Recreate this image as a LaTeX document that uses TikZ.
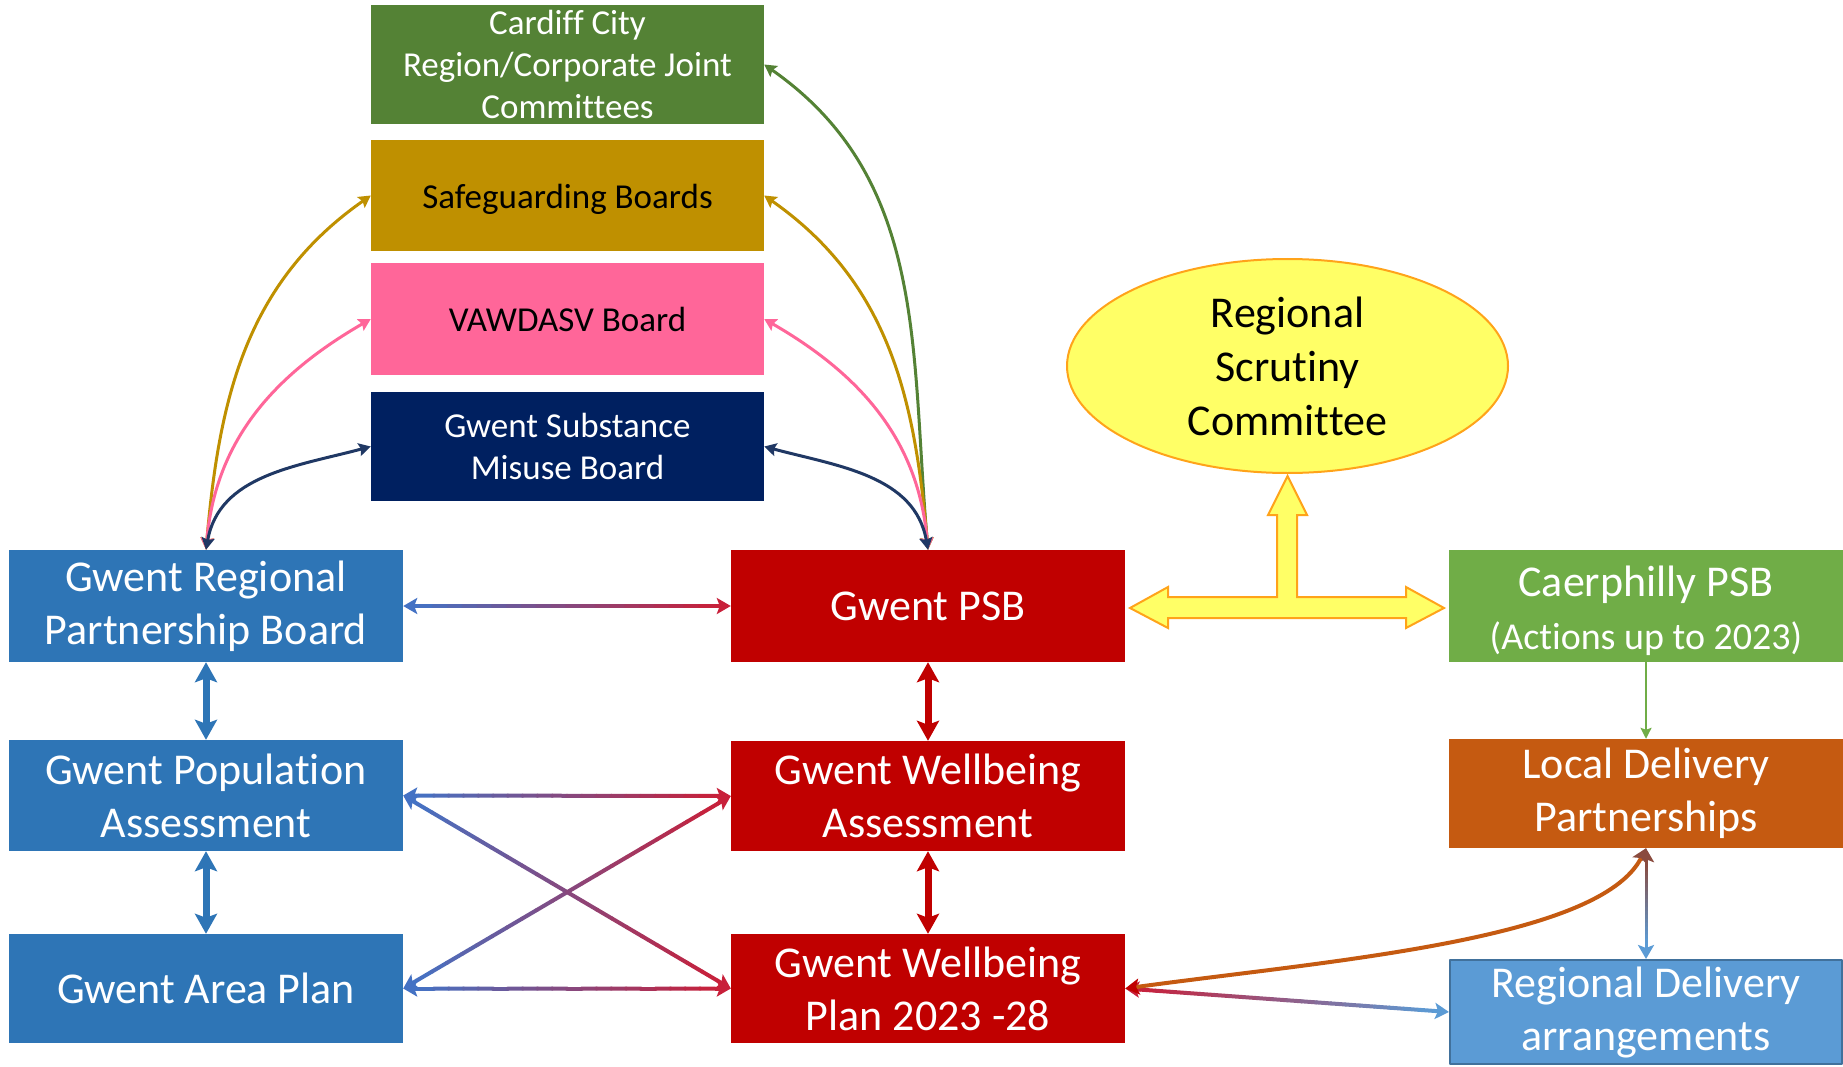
\documentclass[tikz,border=0pt]{standalone}
\usepackage{fontspec}
\setmainfont{Carlito}[Ligatures=NoCommon]
\usetikzlibrary{arrows.meta,calc,shapes.geometric}
\definecolor{cgreen}{HTML}{548235}
\definecolor{cgold}{HTML}{BF9000}
\definecolor{cpink}{HTML}{FF6699}
\definecolor{cnavy}{HTML}{002060}
\definecolor{cnavyline}{HTML}{203864}
\definecolor{cblue}{HTML}{2E75B6}
\definecolor{cred}{HTML}{C00000}
\definecolor{clime}{HTML}{70AD47}
\definecolor{corange}{HTML}{C55A11}
\definecolor{cbrown}{HTML}{8A4B3E}
\definecolor{csky}{HTML}{5B9BD5}
\definecolor{cskyline}{HTML}{41719C}
\definecolor{cyell}{HTML}{FFFF66}
\definecolor{cyline}{HTML}{FFA31A}
\definecolor{lblue}{HTML}{4472C4}
\definecolor{lred}{HTML}{C8203A}
% straight link whose colour runs from #3 to #4
\newcommand{\glink}[5]{%
  \coordinate (ga) at ($(#1)!16pt!(#2)$);
  \coordinate (gb) at ($(#2)!16pt!(#1)$);
  \foreach \k in {1,...,20}{
    \pgfmathsetmacro{\mix}{102.5-5*\k}
    \draw[line width=#5, line cap=round, draw=#3!\mix!#4] ($(ga)!{(\k-1)/20}!(gb)$) -- ($(ga)!{\k/20}!(gb)$);
  }
  \draw[line width=#5, #3, -{Stealth[length=14pt,width=16pt,inset=3pt]}] (ga) -- (#1);
  \draw[line width=#5, #4, -{Stealth[length=14pt,width=16pt,inset=3pt]}] (gb) -- (#2);
}
\begin{document}
\begin{tikzpicture}[x=1pt, y=1pt, line join=round,
  box/.style={rectangle, minimum width=394, minimum height=112, inner sep=0, align=center, text=white, font=\fontsize{44}{53}\selectfont},
  small/.style={minimum width=393, font=\fontsize{35}{42}\selectfont},
  linkc/.style={line width=3, {Stealth[length=12pt,width=13pt,inset=2pt]}-{Stealth[length=12pt,width=13pt,inset=2pt]}},
  fat/.style={line width=7, {Stealth[length=20pt,width=22pt,inset=4pt]}-{Stealth[length=20pt,width=22pt,inset=4pt]}}]
\useasboundingbox (0,0) rectangle (1843,-1067);
\node[box, small, fill=cgreen, minimum height=119] (cardiff) at (567.5,-64.5) {Cardiff City\\Region/Corporate Joint\\Committees};
\node[box, small, fill=cgold, text=black, minimum height=111] (safe) at (567.5,-195.5) {\raisebox{-13pt}[0pt][0pt]{Safeguarding Boards}};
\node[box, small, fill=cpink, text=black] (vaw) at (567.5,-319) {VAWDASV Board};
\node[box, small, fill=cnavy, minimum height=109] (subst) at (567.5,-446.5) {Gwent Substance\\Misuse Board};
\node[box, fill=cblue] (grpb) at (206,-606) {Gwent Regional\\Partnership Board};
\node[box, fill=cred] (psb) at (928,-606) {Gwent PSB};
\node[box, fill=clime] (caer) at (1646,-606) {\raisebox{-5pt}[\height][\depth]{\parbox{394pt}{\centering Caerphilly PSB\\{\fontsize{38}{44}\selectfont(Actions up to 2023)}}}};
\node[box, fill=cblue, minimum height=111] (gpa) at (206,-795.5) {Gwent Population\\Assessment};
\node[box, fill=cred, minimum height=110] (gwa) at (928,-796) {Gwent Wellbeing\\Assessment};
\node[box, fill=corange, minimum height=109] (ld) at (1646,-793.5) {Local Delivery\\Partnerships};
\node[box, fill=cblue, minimum height=109] (gap) at (206,-988.5) {Gwent Area Plan};
\node[box, fill=cred, minimum height=109] (gwp) at (928,-988.5) {Gwent Wellbeing\\Plan 2023 -28};
\node[box, fill=csky, draw=cskyline, line width=2, minimum width=392, minimum height=104] (rd) at (1646,-1012) {Regional Delivery\\arrangements};
\node[ellipse, draw=cyline, line width=2, fill=cyell, minimum width=441, minimum height=214, inner sep=0, align=center, font=\fontsize{44}{54}\selectfont] (rsc) at (1287.5,-366) {Regional\\Scrutiny\\Committee};
\draw[fill=cyell, draw=cyline, line width=2, line join=miter] (1130,-608) -- (1168,-587) -- (1168,-597) -- (1277,-597) -- (1277,-515) -- (1268,-515) -- (1287.5,-476) -- (1307,-515) -- (1297,-515) -- (1297,-597) -- (1406,-597) -- (1406,-587) -- (1444,-608) -- (1406,-628) -- (1406,-618) -- (1168,-618) -- (1168,-628) -- cycle;
\draw[linkc, cgold] (grpb.north) to[out=85,in=215] (safe.west);
\draw[linkc, cpink] (grpb.north) to[out=85,in=210] (vaw.west);
\draw[linkc, cnavyline] (grpb.north) to[out=80,in=195] (subst.west);
\draw[linkc, cgreen] (psb.north) to[out=95,in=-35] (cardiff.east);
\draw[linkc, cgold] (psb.north) to[out=95,in=-35] (safe.east);
\draw[linkc, cpink] (psb.north) to[out=95,in=-30] (vaw.east);
\draw[linkc, cnavyline] (psb.north) to[out=100,in=-15] (subst.east);
\draw[fat, cblue] (grpb.south) -- (gpa.north);
\draw[fat, cblue] (gpa.south) -- (gap.north);
\draw[fat, cred] (psb.south) -- (gwa.north);
\draw[fat, cred] (gwa.south) -- (gwp.north);
\glink{grpb.east}{psb.west}{lblue}{lred}{4}
\glink{gpa.east}{gwa.west}{lblue}{lred}{4}
\glink{gpa.east}{gwp.west}{lblue}{lred}{4}
\glink{gap.east}{gwa.west}{lblue}{lred}{4}
\glink{gap.east}{gwp.west}{lblue}{lred}{4}
\glink{gwp.east}{rd.west}{lred}{csky}{4}
\glink{ld.south}{rd.north}{cbrown}{csky}{3}
\draw[line width=4, corange, {Stealth[length=14pt,width=16pt,inset=3pt,color=cred]}-{Stealth[length=14pt,width=16pt,inset=3pt,color=cbrown]}] (gwp.east) .. controls +(205,28) and +(-46,-92) .. (ld.south);
\draw[line width=2, clime, -{Stealth[length=11pt,width=11pt,inset=2pt]}] (caer.south) -- (ld.north);
\end{tikzpicture}
\end{document}
